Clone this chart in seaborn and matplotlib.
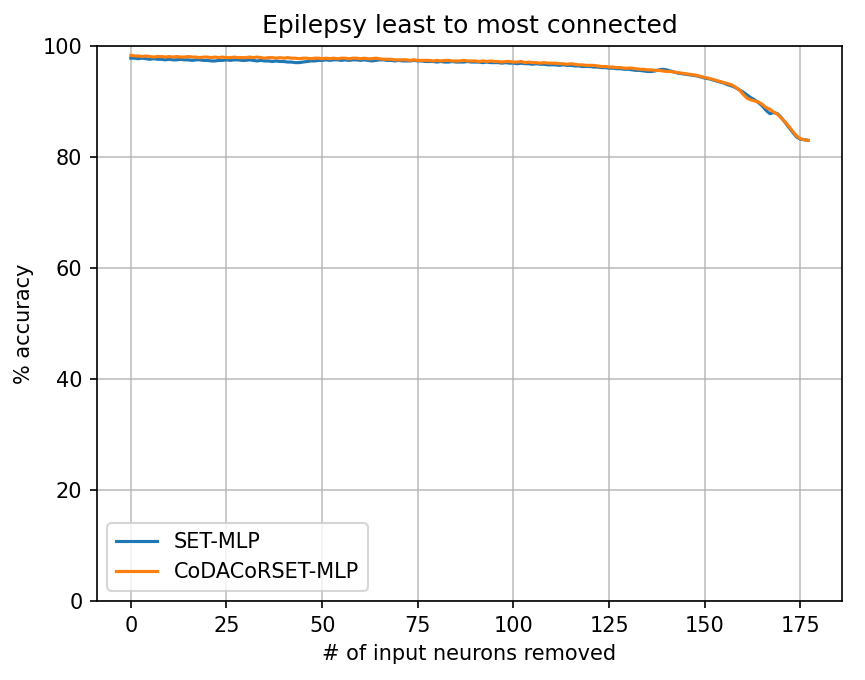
import matplotlib
matplotlib.use("Agg")
import matplotlib.pyplot as plt
import seaborn as sns
import pandas as pd
import numpy as np

# accuracy after removing input neurons, least to most connected
set_mlp = [
    97.8, 97.8, 97.7, 97.8, 97.7, 97.6, 97.7, 97.6, 97.6, 97.5,
    97.6, 97.5, 97.5, 97.6, 97.5, 97.5, 97.4, 97.5, 97.5, 97.4,
    97.4, 97.3, 97.3, 97.4, 97.4, 97.5, 97.4, 97.5, 97.5, 97.4,
    97.4, 97.5, 97.4, 97.3, 97.4, 97.3, 97.3, 97.2, 97.3, 97.2,
    97.2, 97.1, 97.1, 97.0, 97.0, 97.1, 97.2, 97.3, 97.3, 97.4,
    97.4, 97.5, 97.4, 97.5, 97.5, 97.4, 97.5, 97.4, 97.5, 97.5,
    97.4, 97.5, 97.4, 97.3, 97.4, 97.5, 97.5, 97.4, 97.4, 97.3,
    97.4, 97.3, 97.3, 97.3, 97.4, 97.3, 97.3, 97.2, 97.2, 97.2,
    97.1, 97.2, 97.1, 97.1, 97.2, 97.1, 97.1, 97.1, 97.2, 97.1,
    97.1, 97.1, 97.0, 97.1, 97.0, 97.0, 97.0, 96.9, 97.0, 96.9,
    96.9, 96.8, 96.9, 96.8, 96.8, 96.7, 96.8, 96.7, 96.7, 96.6,
    96.6, 96.6, 96.5, 96.6, 96.5, 96.5, 96.4, 96.4, 96.3, 96.3,
    96.3, 96.2, 96.2, 96.1, 96.1, 96.0, 96.0, 95.9, 95.9, 95.8,
    95.8, 95.7, 95.6, 95.6, 95.5, 95.4, 95.4, 95.5, 95.7, 95.8,
    95.7, 95.5, 95.3, 95.1, 95.0, 94.9, 94.8, 94.7, 94.6, 94.4,
    94.2, 94.1, 93.9, 93.7, 93.5, 93.3, 93.0, 92.8, 92.5, 92.1,
    91.7, 91.2, 90.7, 90.3, 89.8, 89.2, 88.4, 87.8, 88.0, 87.8,
    87.1, 86.2, 85.3, 84.4, 83.6, 83.2, 83.1, 83.0,
]
codacorset_mlp = [
    98.3, 98.2, 98.2, 98.1, 98.2, 98.1, 98.0, 98.1, 98.1, 98.0,
    98.1, 98.0, 98.1, 98.0, 98.0, 98.1, 98.0, 98.0, 97.9, 98.0,
    98.0, 97.9, 98.0, 97.9, 98.0, 97.9, 97.9, 98.0, 97.9, 97.9,
    97.9, 98.0, 97.9, 98.0, 97.9, 97.8, 97.9, 97.9, 97.8, 97.9,
    97.8, 97.9, 97.8, 97.8, 97.7, 97.8, 97.8, 97.7, 97.8, 97.8,
    97.7, 97.8, 97.7, 97.8, 97.7, 97.8, 97.8, 97.7, 97.8, 97.8,
    97.7, 97.8, 97.7, 97.7, 97.8, 97.7, 97.6, 97.6, 97.6, 97.5,
    97.5, 97.5, 97.5, 97.4, 97.5, 97.4, 97.4, 97.4, 97.4, 97.3,
    97.4, 97.3, 97.4, 97.4, 97.3, 97.3, 97.3, 97.4, 97.3, 97.3,
    97.3, 97.2, 97.3, 97.2, 97.3, 97.2, 97.2, 97.1, 97.2, 97.2,
    97.1, 97.1, 97.2, 97.0, 97.1, 97.0, 97.0, 96.9, 97.0, 96.9,
    96.9, 96.9, 96.8, 96.8, 96.7, 96.8, 96.7, 96.6, 96.6, 96.5,
    96.5, 96.5, 96.4, 96.3, 96.3, 96.2, 96.2, 96.1, 96.1, 96.0,
    96.0, 96.0, 95.9, 95.8, 95.8, 95.7, 95.7, 95.6, 95.6, 95.5,
    95.4, 95.4, 95.3, 95.2, 95.1, 95.0, 94.9, 94.8, 94.7, 94.5,
    94.3, 94.2, 94.0, 93.8, 93.6, 93.4, 93.2, 93.0, 92.6, 92.1,
    91.3, 90.6, 90.3, 90.1, 89.9, 89.5, 88.9, 88.6, 88.1, 87.7,
    87.0, 86.3, 85.5, 84.6, 83.8, 83.3, 83.1, 83.0,
]
neurons_removed = list(range(len(set_mlp)))

df = pd.DataFrame({
    "removed": neurons_removed * 2,
    "accuracy": set_mlp + codacorset_mlp,
    "model": ["SET-MLP"] * len(set_mlp) + ["CoDACoRSET-MLP"] * len(codacorset_mlp),
})

fig = plt.figure(figsize=(865 / 150, 680 / 150), dpi=150)
ax = fig.add_axes([0.1121, 0.1162, 0.9734 - 0.1121, 0.9324 - 0.1162])

sns.lineplot(data=df, x="removed", y="accuracy", hue="model",
             palette=["#1f77b4", "#ff7f0e"], linewidth=1.5, ax=ax)

ax.set_ylim(0, 100)
ax.set_title("Epilepsy least to most connected", fontsize=12)
ax.set_xlabel("# of input neurons removed")
ax.set_ylabel("% accuracy")
ax.grid(True, alpha=0.8)
ax.legend(loc="lower left", title=None)

fig.savefig("out.png", dpi=150)
